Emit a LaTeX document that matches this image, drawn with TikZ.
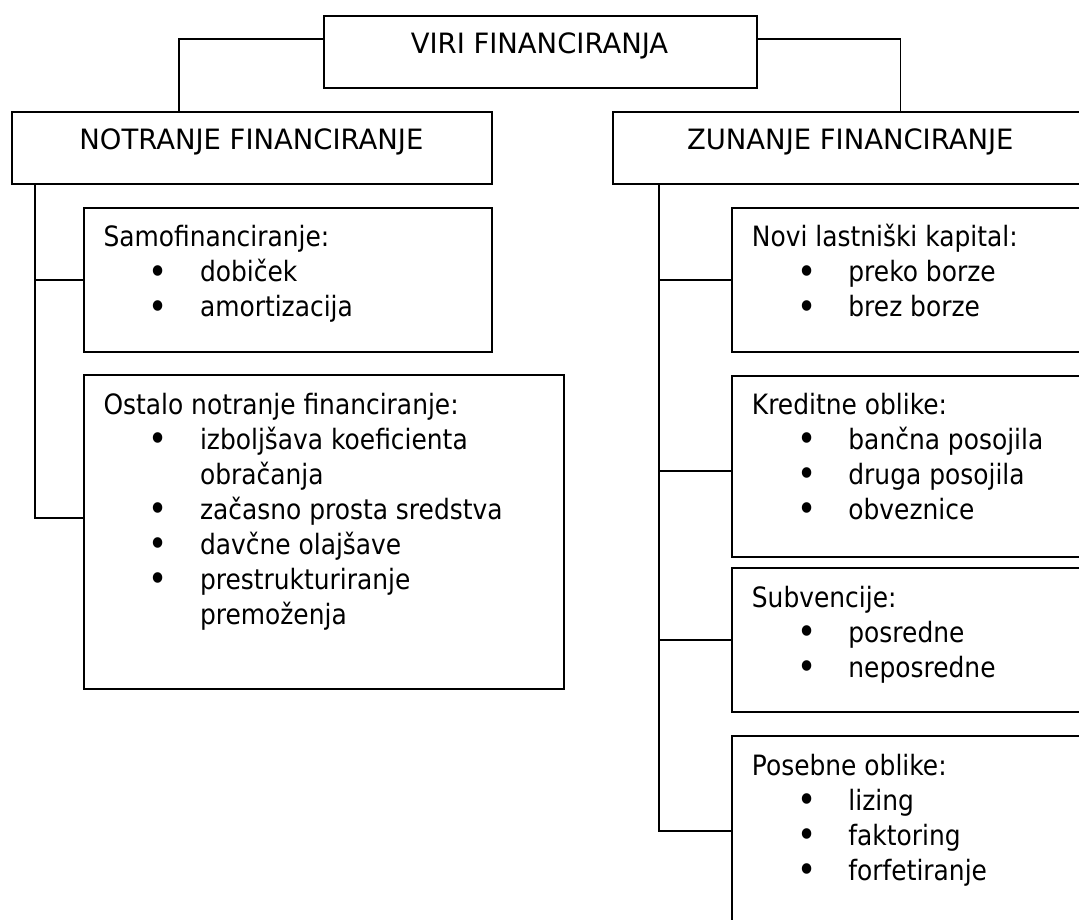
\documentclass[tikz,border=0pt]{standalone}
\usepackage{fontspec}
\usepackage{graphicx}
\setmainfont{DejaVu Sans}[FakeStretch=0.89]
\newfontfamily\headfont{DejaVu Sans}[FakeStretch=0.98]
\newcommand\bul{\makebox[0pt]{\raisebox{-2.2pt}{\scalebox{1.3}{•}}}}
\newcommand\itm[1]{\hspace*{55pt}\bul\hspace*{41.5pt}#1}
\newcommand\cont[1]{\hspace*{96.5pt}#1}
\newcommand\blk[1]{\begin{tabular}[t]{@{}l@{}}#1\end{tabular}}
\begin{document}
\begin{tikzpicture}[x=1pt,y=-1pt,
  box/.style={draw, line width=1.9pt, inner sep=0pt, anchor=north west},
  conn/.style={line width=1.9pt},
  head/.style={font=\headfont\fontsize{28pt}{35pt}\selectfont, inner sep=0pt, anchor=base},
  body/.style={font=\fontsize{28pt}{35pt}\selectfont, inner sep=0pt, anchor=base west}]
\useasboundingbox (0,0) rectangle (1079,920);
\fill[white] (0,0) rectangle (1079,920);
\clip (0,0) rectangle (1079,920);
% boxes
\node[box, minimum width=433.6pt, minimum height=71.7pt] (viri) at (322.7,15) {};
\node[box, minimum width=480pt, minimum height=72pt] (notr) at (11.4,111) {};
\node[box, minimum width=520pt, minimum height=72pt] (zun) at (611.6,111) {};
\node[box, minimum width=408.8pt, minimum height=144pt] (samo) at (82.6,206.7) {};
\node[box, minimum width=480.4pt, minimum height=313.7pt] (ost) at (82.6,374) {};
\node[box, minimum width=400pt, minimum height=144.3pt] (novi) at (731,206.7) {};
\node[box, minimum width=400pt, minimum height=180.7pt] (kred) at (731,375) {};
\node[box, minimum width=400pt, minimum height=143.7pt] (subv) at (731,567.3) {};
\node[box, minimum width=400pt, minimum height=200pt] (pos) at (731,735) {};
% texts
\node[head] (viri-t) at (539.5,53.3) {VIRI FINANCIRANJA};
\node[head] (notr-t) at (251.4,150) {NOTRANJE FINANCIRANJE};
\node[head] (zun-t) at (850.3,150) {ZUNANJE FINANCIRANJE};
\node[body] (samo-t) at (103.3,247) {\blk{Samofinanciranje:\\ \itm{dobiček}\\ \itm{amortizacija}}};
\node[body] (ost-t) at (103.3,414) {\blk{Ostalo notranje financiranje:\\ \itm{izboljšava koeficienta}\\ \cont{obračanja}\\ \itm{začasno prosta sredstva}\\ \itm{davčne olajšave}\\ \itm{prestrukturiranje}\\ \cont{premoženja}}};
\node[body] (novi-t) at (751.7,247) {\blk{Novi lastniški kapital:\\ \itm{preko borze}\\ \itm{brez borze}}};
\node[body] (kred-t) at (751.7,414) {\blk{Kreditne oblike:\\ \itm{bančna posojila}\\ \itm{druga posojila}\\ \itm{obveznice}}};
\node[body] (subv-t) at (751.7,607) {\blk{Subvencije:\\ \itm{posredne}\\ \itm{neposredne}}};
\node[body] (pos-t) at (751.7,775) {\blk{Posebne oblike:\\ \itm{lizing}\\ \itm{faktoring}\\ \itm{forfetiranje}}};
% connectors
\draw[conn] (viri.west |- 0,39) -| (notr.north -| 179,0);
\draw[conn] (viri.east |- 0,39) -| (zun.north -| 900.5,0);
\draw[conn] (notr.south -| 34.8,0) |- (samo.west);
\draw[conn] (notr.south -| 34.8,0) |- (ost.west |- 0,518.3);
\draw[conn] (zun.south -| 659.3,0) |- (novi.west);
\draw[conn] (zun.south -| 659.3,0) |- (kred.west |- 0,471);
\draw[conn] (zun.south -| 659.3,0) |- (subv.west);
\draw[conn] (zun.south -| 659.3,0) |- (pos.west |- 0,831);
\end{tikzpicture}
\end{document}
